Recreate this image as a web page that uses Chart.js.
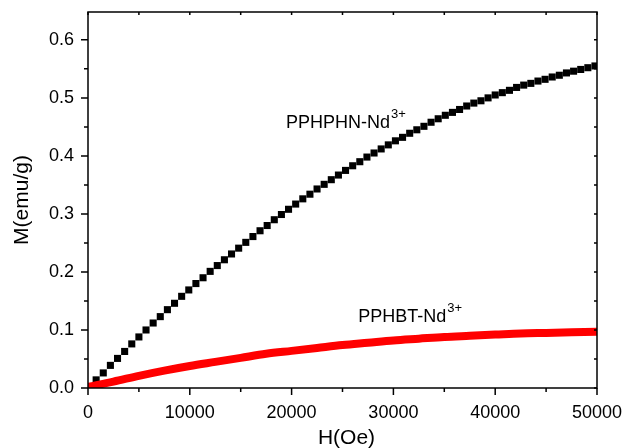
<!DOCTYPE html>
<html>
<head>
<meta charset="utf-8">
<script src="https://cdn.jsdelivr.net/npm/chart.js@4"></script>
<style>
  body { margin: 0; background: #fff; }
  #wrap { width: 627px; height: 448px; position: relative; }
</style>
</head>
<body>
<div id="wrap"><canvas id="mhChart"></canvas></div>
<script>
// field values (Oe) for the PPHPHN-Nd3+ squares
const hPPHPHN = [
  800, 1500, 2200, 2900, 3600, 4300, 5000, 5700, 6400, 7100,
  7800, 8500, 9200, 9900, 10600, 11300, 12000, 12700, 13400, 14100,
  14800, 15500, 16200, 16900, 17600, 18300, 19000, 19700, 20400, 21100,
  21800, 22500, 23200, 23900, 24600, 25300, 26000, 26700, 27400, 28100,
  28800, 29500, 30200, 30900, 31600, 32300, 33000, 33700, 34400, 35100,
  35800, 36500, 37200, 37900, 38600, 39300, 40000, 40700, 41400, 42100,
  42800, 43500, 44200, 44900, 45600, 46300, 47000, 47700, 48400, 49100,
  49800
];
// magnetization (emu/g)
const mPPHPHN = [
  0.014, 0.026, 0.039, 0.051, 0.063, 0.076, 0.088, 0.100, 0.112, 0.123,
  0.135, 0.146, 0.158, 0.169, 0.180, 0.190, 0.201, 0.211, 0.221, 0.231,
  0.241, 0.251, 0.261, 0.271, 0.280, 0.290, 0.299, 0.308, 0.317, 0.326,
  0.334, 0.343, 0.351, 0.359, 0.367, 0.375, 0.383, 0.390, 0.398, 0.405,
  0.412, 0.419, 0.426, 0.432, 0.439, 0.445, 0.451, 0.458, 0.464, 0.470,
  0.475, 0.480, 0.486, 0.491, 0.495, 0.500, 0.505, 0.509, 0.513, 0.518,
  0.522, 0.525, 0.529, 0.532, 0.536, 0.539, 0.543, 0.546, 0.549, 0.552,
  0.555
];

// PPHBT-Nd3+ (dense red trace)
const hPPHBT = [0, 2500, 5000, 7500, 10000, 12500, 15000, 17500, 20000, 22500,
  25000, 27500, 30000, 32500, 35000, 37500, 40000, 42500, 45000, 47500, 50000];
const mPPHBT = [0.002, 0.011, 0.021, 0.030, 0.038, 0.045, 0.052, 0.059, 0.064, 0.069,
  0.074, 0.078, 0.082, 0.085, 0.088, 0.090, 0.092, 0.094, 0.095, 0.096, 0.097];

// curve labels, placed in data units
const curveLabels = [
  { text: 'PPHPHN-Nd', sup: '3+', h: 19450, m: 0.448 },
  { text: 'PPHBT-Nd', sup: '3+', h: 26550, m: 0.1133 }
];

const FONT = "'Liberation Sans', Arial, sans-serif";

const toPoints = (xs, ys) => xs.map((v, i) => ({ x: v, y: ys[i] }));

// frame, inner/outer ticks, axis titles and curve labels
const decorations = {
  id: 'decorations',
  afterDraw(chart) {
    const { ctx, chartArea: a, scales: { x, y } } = chart;
    ctx.save();
    ctx.strokeStyle = '#000';
    ctx.lineWidth = 1.5;
    ctx.strokeRect(a.left, a.top, a.right - a.left, a.bottom - a.top);

    ctx.beginPath();
    x.ticks.forEach(t => {
      const px = x.getPixelForValue(t.value);
      const major = t.value % 10000 === 0;
      ctx.moveTo(px, a.bottom);
      ctx.lineTo(px, a.bottom + (major ? 7 : 4));
      ctx.moveTo(px, a.top);
      ctx.lineTo(px, a.top + 3);
    });
    y.ticks.forEach(t => {
      const v = t.value;
      if (Math.abs(v * 20 - Math.round(v * 20)) > 1e-6) return;
      const py = y.getPixelForValue(v);
      const major = Math.abs(v * 10 - Math.round(v * 10)) < 1e-6;
      ctx.moveTo(a.left, py);
      ctx.lineTo(a.left - (major ? 7 : 4), py);
      ctx.moveTo(a.right, py);
      ctx.lineTo(a.right - 3, py);
    });
    ctx.stroke();

    ctx.fillStyle = '#000';
    // axis titles
    ctx.font = '21px ' + FONT;
    ctx.textAlign = 'center';
    ctx.textBaseline = 'alphabetic';
    ctx.fillText('H(Oe)', (a.left + a.right) / 2 + 4, 444);
    ctx.save();
    ctx.translate(28, (a.top + a.bottom) / 2);
    ctx.rotate(-Math.PI / 2);
    ctx.fillText('M(emu/g)', 0, 0);
    ctx.restore();

    // curve labels with superscripts
    ctx.textAlign = 'left';
    curveLabels.forEach(l => {
      const px = x.getPixelForValue(l.h);
      const py = y.getPixelForValue(l.m);
      ctx.font = '18px ' + FONT;
      ctx.fillText(l.text, px, py);
      const w = ctx.measureText(l.text).width;
      ctx.font = '13px ' + FONT;
      ctx.fillText(l.sup, px + w + 1, py - 10);
    });
    ctx.restore();
  }
};

const ctx = document.getElementById('mhChart').getContext('2d');
new Chart(ctx, {
  type: 'line',
  data: {
    datasets: [
      {
        label: 'PPHBT-Nd3+',
        data: toPoints(hPPHBT, mPPHBT),
        borderColor: '#ff0000',
        backgroundColor: '#ff0000',
        borderWidth: 8,
        borderCapStyle: 'butt',
        cubicInterpolationMode: 'monotone',
        pointRadius: 0,
        fill: false
      },
      {
        label: 'PPHPHN-Nd3+',
        data: toPoints(hPPHPHN, mPPHPHN),
        showLine: false,
        pointStyle: 'rect',
        pointRadius: 5,
        pointBorderWidth: 0,
        pointBackgroundColor: '#000',
        borderColor: '#000'
      }
    ]
  },
  options: {
    responsive: true,
    maintainAspectRatio: false,
    animation: false,
    layout: { padding: { top: 12, right: 30, left: 0, bottom: 0 } },
    plugins: { legend: { display: false }, tooltip: { enabled: false } },
    scales: {
      x: {
        type: 'linear',
        min: 0,
        max: 50000,
        grid: { display: false, drawTicks: false },
        border: { display: false },
        ticks: {
          stepSize: 5000,
          autoSkip: false,
          maxRotation: 0,
          padding: 14,
          color: '#000',
          font: { family: FONT, size: 18 },
          callback: v => (v % 10000 === 0 ? String(v) : '')
        },
        afterFit: s => {
          s.height = 60;
          s.paddingLeft = 0;
          s.paddingRight = 0;
        }
      },
      y: {
        type: 'linear',
        min: 0,
        max: 0.648,
        grid: { display: false, drawTicks: false },
        border: { display: false },
        ticks: {
          stepSize: 0.05,
          autoSkip: false,
          padding: 14,
          color: '#000',
          font: { family: FONT, size: 18 },
          callback: v => (Math.abs(v * 10 - Math.round(v * 10)) < 1e-6 ? v.toFixed(1) : '')
        },
        afterFit: s => {
          s.width = 88;
          s.paddingTop = 0;
          s.paddingBottom = 0;
        }
      }
    }
  },
  plugins: [decorations]
});
</script>
</body>
</html>
